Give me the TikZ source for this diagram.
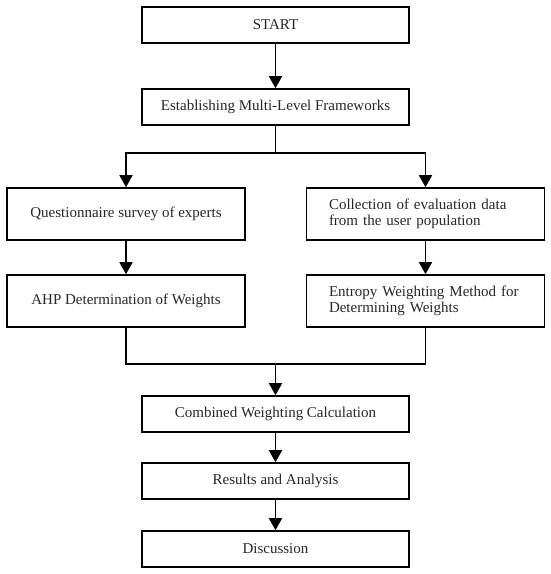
\documentclass[tikz,border=0pt]{standalone}
\usepackage{fontspec}
\setmainfont{Liberation Serif}
\usetikzlibrary{arrows.meta}
\begin{document}
\begin{tikzpicture}[x=1pt,y=-1pt,
  box/.style={draw=black, line width=1.6pt, minimum height=36pt, inner sep=0pt, font=\fontsize{15}{16.5}\selectfont, text=black!85},
  wbox/.style={box, minimum width=267pt},
  sbox/.style={box, minimum width=238pt, minimum height=52pt},
  lbox/.style={sbox, align=left, text width=193pt},
  conn/.style={line width=1.6pt, draw=black},
  arr/.style={conn, -{Triangle[width=13pt,length=12pt]}}]
\useasboundingbox (0,0) rectangle (550,574);
\node[wbox] (start) at (275.5,25) {START};
\node[wbox] (estab) at (275.5,107) {Establishing Multi-Level Frameworks};
\node[sbox] (quest) at (126,214) {Questionnaire survey of experts};
\node[lbox] (coll) at (425.5,214) {Collection of evaluation data\\from the user population};
\node[sbox] (ahp) at (126,301) {AHP Determination of Weights};
\node[lbox] (entr) at (425.5,301) {Entropy Weighting Method for\\Determining Weights};
\node[wbox] (comb) at (275.5,414) {Combined Weighting Calculation};
\node[wbox] (res) at (275.5,481) {Results and Analysis};
\node[wbox] (disc) at (275.5,549) {Discussion};
\coordinate (sp) at (275.5,153);
\coordinate (mg) at (275.5,364);
\draw[arr] (start) -- (estab);
\draw[conn] (estab) -- (sp);
\draw[arr] (sp) -| (quest);
\draw[arr] (sp) -| (coll);
\draw[arr] (quest) -- (ahp);
\draw[arr] (coll) -- (entr);
\draw[conn] (ahp.south) |- (mg);
\draw[conn] (entr.south) |- (mg);
\draw[arr] (mg) -- (comb);
\draw[arr] (comb) -- (res);
\draw[arr] (res) -- (disc);
\end{tikzpicture}
\end{document}
